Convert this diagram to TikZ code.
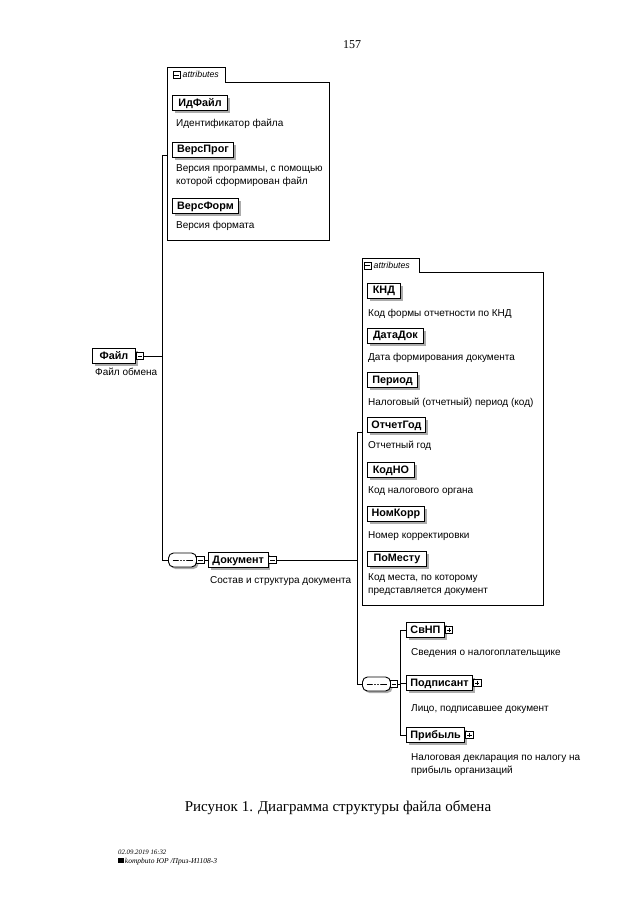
\documentclass[tikz,border=0pt]{standalone}
\usepackage{fontspec}
\setmainfont{Liberation Serif}
\newfontfamily\dgfont{Liberation Sans}
\usetikzlibrary{shadows}
\begin{document}
\begin{tikzpicture}[x=1pt,y=-1pt,
  conn/.style={draw=black, line width=0.9pt},
  panel/.style={draw=black, line width=0.9pt},
  elem/.style={draw=black, line width=0.9pt, fill=white, anchor=west,
    font=\dgfont\bfseries\fontsize{10.8}{12}\selectfont,
    inner xsep=4pt, inner ysep=0pt, minimum height=15pt,
    text height=7.8pt, text depth=1.5pt,
    drop shadow={shadow xshift=2.5pt, shadow yshift=-2.5pt, fill=gray!65, opacity=1}},
  desc/.style={anchor=base west, inner sep=0pt,
    font=\dgfont\fontsize{10}{12.8}\selectfont},
  tabtext/.style={anchor=west, inner sep=0pt,
    font=\dgfont\itshape\fontsize{8.8}{10}\selectfont},
  minusicon/.style={draw=black, line width=0.6pt, fill=white, minimum size=7.5pt, inner sep=0pt,
    path picture={\draw[line width=0.6pt] ([xshift=1.4pt]path picture bounding box.west) -- ([xshift=-1.4pt]path picture bounding box.east);}},
  plusicon/.style={minusicon,
    path picture={\draw[line width=0.6pt] ([xshift=1.4pt]path picture bounding box.west) -- ([xshift=-1.4pt]path picture bounding box.east);
      \draw[line width=0.6pt] ([yshift=-1.4pt]path picture bounding box.north) -- ([yshift=1.4pt]path picture bounding box.south);}},
  seq/.style={draw=black, line width=0.9pt, fill=white, rounded corners=5pt,
    minimum width=28pt, minimum height=14pt, inner sep=0pt,
    drop shadow={shadow xshift=2pt, shadow yshift=-2pt, fill=gray!65, opacity=1},
    path picture={
      \draw[line width=0.8pt] ([xshift=4pt]path picture bounding box.west) -- ([xshift=-4pt]path picture bounding box.east);
      \foreach \dx in {-3,0,3} \fill ([xshift=\dx pt]path picture bounding box.center) circle (1.1pt);}}
]
\useasboundingbox (0,0) rectangle (640,905);

\node[font=\fontsize{12}{14}\selectfont] (pnum) at (352,45) {157};

% ---------- attributes panel of Файл ----------
\draw[panel] (167,240) -- (167,67) -- (225,67) -- (225,82) -- (329,82) -- (329,240) -- cycle;
\node[minusicon, minimum size=7pt] (tab1m) at (176.5,75) {};
\node[tabtext] (tab1t) at (182.5,74.5) {attributes};

\node[elem, minimum width=55pt] (idfile) at (172,103) {ИдФайл};
\node[desc] (idfiled) at (176,126.5) {Идентификатор файла};
\node[elem, minimum width=61pt] (versprog) at (172,149.5) {ВерсПрог};
\node[desc] (versprogd) at (176,171.5) {\vtop{\hbox{Версия программы, с помощью}\hbox{которой сформирован файл}}};
\node[elem, minimum width=66pt] (versform) at (172,206) {ВерсФорм};
\node[desc] (versformd) at (176,228.5) {Версия формата};

% ---------- root element ----------
\node[elem, minimum width=43pt] (file) at (92,356) {Файл};
\node[minusicon, anchor=west] (filem) at (file.east) {};
\node[desc] (filed) at (95,375.5) {Файл обмена};

\coordinate (v1top) at (162,155);
\coordinate (p1l) at (167,155);
\coordinate (v1bot) at (162,560);

% ---------- Документ ----------
\node[seq] (seq1) at (182.5,560) {};
\node[minusicon] (seq1m) at (200.5,560) {};
\node[elem, minimum width=55pt] (doc) at (208,560) {Документ};
\node[minusicon, anchor=west] (docm) at (doc.east) {};
\node[desc] (docd) at (210,583.5) {Состав и структура документа};

% ---------- attributes panel of Документ ----------
\draw[panel] (362,605) -- (362,258) -- (419,258) -- (419,272) -- (543,272) -- (543,605) -- cycle;
\node[minusicon, minimum size=7pt] (tab2m) at (367.5,265.5) {};
\node[tabtext] (tab2t) at (373.5,265) {attributes};

\node[elem, minimum width=33pt] (knd) at (367,290.5) {КНД};
\node[desc] (kndd) at (368,316.5) {Код формы отчетности по КНД};
\node[elem, minimum width=56pt] (datadok) at (367,335.5) {ДатаДок};
\node[desc] (datadokd) at (368,360.5) {Дата формирования документа};
\node[elem, minimum width=50pt] (period) at (367,380) {Период};
\node[desc] (periodd) at (368,405.5) {Налоговый (отчетный) период (код)};
\node[elem, minimum width=56pt] (otchgod) at (367,425) {ОтчетГод};
\node[desc] (otchgodd) at (368,448.5) {Отчетный год};
\node[elem, minimum width=47pt] (kodno) at (367,470) {КодНО};
\node[desc] (kodnod) at (368,493.5) {Код налогового органа};
\node[elem, minimum width=57pt] (nomkorr) at (367,513.5) {НомКорр};
\node[desc] (nomkorrd) at (368,538.5) {Номер корректировки};
\node[elem, minimum width=59pt] (pomestu) at (367,558.5) {ПоМесту};
\node[desc] (pomestud) at (368,580.5) {\vtop{\hbox{Код места, по которому}\hbox{представляется документ}}};

\coordinate (v2top) at (357,432);
\coordinate (p2l) at (362,432);
\coordinate (v2bot) at (357,684);

% ---------- children of Документ ----------
\node[seq] (seq2) at (376.5,684) {};
\node[minusicon] (seq2m) at (394,684) {};
\coordinate (v3top) at (400,630);
\coordinate (v3bot) at (400,735);

\node[elem, minimum width=37pt] (svnp) at (406,630) {СвНП};
\node[plusicon, anchor=west] (svnpp) at (svnp.east) {};
\node[desc] (svnpd) at (411,655.5) {Сведения о налогоплательщике};
\node[elem, minimum width=64pt] (podp) at (406,683) {Подписант};
\node[plusicon, anchor=west] (podpp) at (podp.east) {};
\node[desc] (podpd) at (411,711.5) {Лицо, подписавшее документ};
\node[elem, minimum width=54pt] (prib) at (406,735) {Прибыль};
\node[plusicon, anchor=west] (pribp) at (prib.east) {};
\node[desc] (pribd) at (411,760.5) {\vtop{\hbox{Налоговая декларация по налогу на}\hbox{прибыль организаций}}};

% ---------- connectors ----------
\draw[conn] (filem.east) -- (filem.east -| v1top);
\draw[conn] (p1l) -- (v1top) -- (v1bot) -- (seq1.west);
\draw[conn] (seq1m.east) -- (doc.west);
\draw[conn] (docm.east) -- (docm.east -| v2top);
\draw[conn] (p2l) -- (v2top) -- (v2bot) -- (seq2.west);
\draw[conn] (seq2m.east) -- (seq2m.east -| v3top);
\draw[conn] (svnp.west) -- (v3top) -- (v3bot) -- (prib.west);
\draw[conn] (podp.west -| v3top) -- (podp.west);

% ---------- caption and footer ----------
\node[font=\fontsize{15}{18}\selectfont] (caption) at (338,808) {Рисунок 1. Диаграмма структуры файла обмена};
\node[anchor=base west, inner sep=0pt, font=\itshape\fontsize{6.8}{8}\selectfont] (foot1) at (118,854) {02.09.2019 16:32};
\node[anchor=base west, inner sep=0pt, font=\itshape\fontsize{7.5}{8}\selectfont] (foot2) at (118,863) {\rule{5.5pt}{5.5pt}\,kompbuto ЮР /Приз-И1108-3};
\end{tikzpicture}
\end{document}
